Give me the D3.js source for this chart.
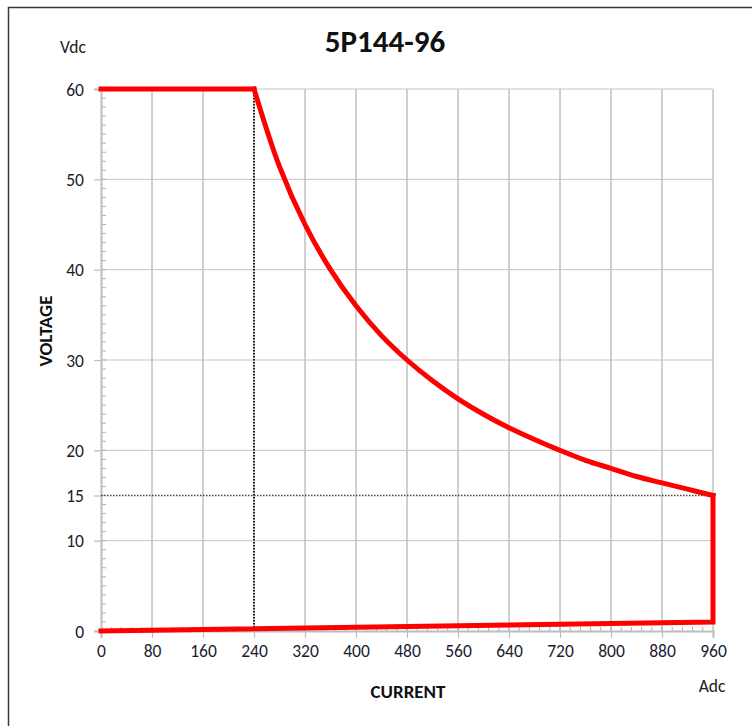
<!DOCTYPE html>
<html>
<head>
<meta charset="utf-8">
<script src="https://cdn.jsdelivr.net/npm/d3@7"></script>
<style>
  body { margin: 0; background: #fff; }
  text { font-family: Carlito, Lato, "Open Sans", sans-serif; }
</style>
</head>
<body>
<div id="chart"></div>
<script>
var width = 752,
    height = 726,
    margin = {top: 89, right: 39, bottom: 95, left: 101};

// constant-power part of the envelope
var curveCurrent = [240, 280, 320, 360, 400, 440, 480, 520, 560, 600, 640, 680, 720, 760, 800, 840, 880, 920, 960];
var curveVoltage = [60, 51.4, 45, 40, 36, 32.7, 30, 27.7, 25.7, 24, 22.5, 21.2, 20, 18.9, 18, 17.1, 16.4, 15.7, 15];
// straight parts: constant voltage, drop at max current, return to origin
var flatCurrent = [0, 240];
var flatVoltage = [60, 60];
var returnCurrent = [960, 960, 0];
var returnVoltage = [15, 1, 0];

var xTicks = [0, 80, 160, 240, 320, 400, 480, 560, 640, 720, 800, 880, 960];
var yTicks = [0, 10, 15, 20, 30, 40, 50, 60];
var yGrid = [10, 20, 30, 40, 50, 60];
var kneeCurrent = 240, floorVoltage = 15;

var w = width - margin.left - margin.right,
    h = height - margin.top - margin.bottom;

var svg = d3.select("#chart").append("svg")
  .attr("width", width)
  .attr("height", height);

// outer frame
svg.append("path")
  .attr("d", "M8.5," + height + "V7.5H" + width)
  .attr("fill", "none")
  .attr("stroke", "#3a3a3a")
  .attr("stroke-width", 1.5);

var g = svg.append("g")
  .attr("transform", "translate(" + margin.left + "," + margin.top + ")");

var x = d3.scaleLinear().domain([0, 960]).range([0, w]);
var y = d3.scaleLinear().domain([0, 60]).range([h, 0]);

// grid
g.selectAll(".vgrid")
  .data(xTicks.slice(1))
  .enter().append("line")
  .attr("x1", d => x(d)).attr("x2", d => x(d))
  .attr("y1", 0).attr("y2", h)
  .attr("stroke", "#a0a0a0").attr("stroke-width", 1);

g.selectAll(".hgrid")
  .data(yGrid)
  .enter().append("line")
  .attr("x1", 0).attr("x2", w)
  .attr("y1", d => y(d)).attr("y2", d => y(d))
  .attr("stroke", "#c4c4c4").attr("stroke-width", 1);

// minor ticks (inside)
g.selectAll(".yminor")
  .data(d3.range(1, 60))
  .enter().append("line")
  .attr("x1", 0).attr("x2", 5)
  .attr("y1", d => y(d)).attr("y2", d => y(d))
  .attr("stroke", "#b0b0b0");

g.selectAll(".xminor")
  .data(d3.range(16, 960, 16))
  .enter().append("line")
  .attr("x1", d => x(d)).attr("x2", d => x(d))
  .attr("y1", h).attr("y2", h - 4)
  .attr("stroke", "#b0b0b0");

// axes
var xAxis = g.append("g")
  .attr("transform", "translate(0," + h + ")")
  .call(d3.axisBottom(x).tickValues(xTicks).tickSize(7).tickPadding(7));
var yAxis = g.append("g")
  .call(d3.axisLeft(y).tickValues(yTicks).tickSize(7).tickPadding(10));

[xAxis, yAxis].forEach(function(a) {
  a.select(".domain").attr("stroke", "#bdbdbd").attr("stroke-width", 2);
  a.selectAll(".tick line").attr("stroke", "#bdbdbd").attr("stroke-width", 1.2);
  a.selectAll(".tick text")
    .attr("fill", "#1c1c30")
    .style("font-size", "17.5px")
    .style("font-family", "Carlito, Lato, sans-serif");
});
yAxis.selectAll(".tick text").attr("dy", "0.35em");

// dotted reference lines
g.append("line")
  .attr("x1", x(kneeCurrent)).attr("x2", x(kneeCurrent))
  .attr("y1", y(60)).attr("y2", y(0))
  .attr("stroke", "#222").attr("stroke-width", 2)
  .attr("stroke-dasharray", "1.5,1.5");

g.append("line")
  .attr("x1", x(0)).attr("x2", x(960))
  .attr("y1", y(floorVoltage)).attr("y2", y(floorVoltage))
  .attr("stroke", "#444").attr("stroke-width", 1.5)
  .attr("stroke-dasharray", "1.5,1.5");

// envelope
var straight = d3.line()
  .x(d => x(d[0]))
  .y(d => y(d[1]));
var smooth = d3.line()
  .x(d => x(d[0]))
  .y(d => y(d[1]))
  .curve(d3.curveCatmullRom);

function redPath(data, gen) {
  g.append("path")
    .datum(data)
    .attr("d", gen)
    .attr("fill", "none")
    .attr("stroke", "#ff0000")
    .attr("stroke-width", 5)
    .attr("stroke-linejoin", "miter")
    .attr("stroke-linecap", "square");
}
redPath(d3.zip(curveCurrent, curveVoltage), smooth);
redPath(d3.zip(flatCurrent, flatVoltage), straight);
redPath(d3.zip(returnCurrent, returnVoltage), straight);

// labels
svg.append("text")
  .attr("x", 385).attr("y", 52)
  .attr("text-anchor", "middle")
  .style("font-size", "31px").style("font-weight", "bold")
  .attr("fill", "#111")
  .text("5P144-96");

svg.append("text")
  .attr("x", 60).attr("y", 53)
  .style("font-size", "17.5px")
  .attr("fill", "#222")
  .text("Vdc");

svg.append("text")
  .attr("x", 712).attr("y", 692)
  .attr("text-anchor", "middle")
  .style("font-size", "17.5px")
  .attr("fill", "#222")
  .text("Adc");

svg.append("text")
  .attr("transform", "translate(52,331) rotate(-90)")
  .attr("text-anchor", "middle")
  .style("font-size", "19px").style("font-weight", "bold")
  .attr("fill", "#111")
  .text("VOLTAGE");

svg.append("text")
  .attr("x", 408).attr("y", 698)
  .attr("text-anchor", "middle")
  .style("font-size", "19px").style("font-weight", "bold")
  .attr("fill", "#111")
  .text("CURRENT");
</script>
</body>
</html>
